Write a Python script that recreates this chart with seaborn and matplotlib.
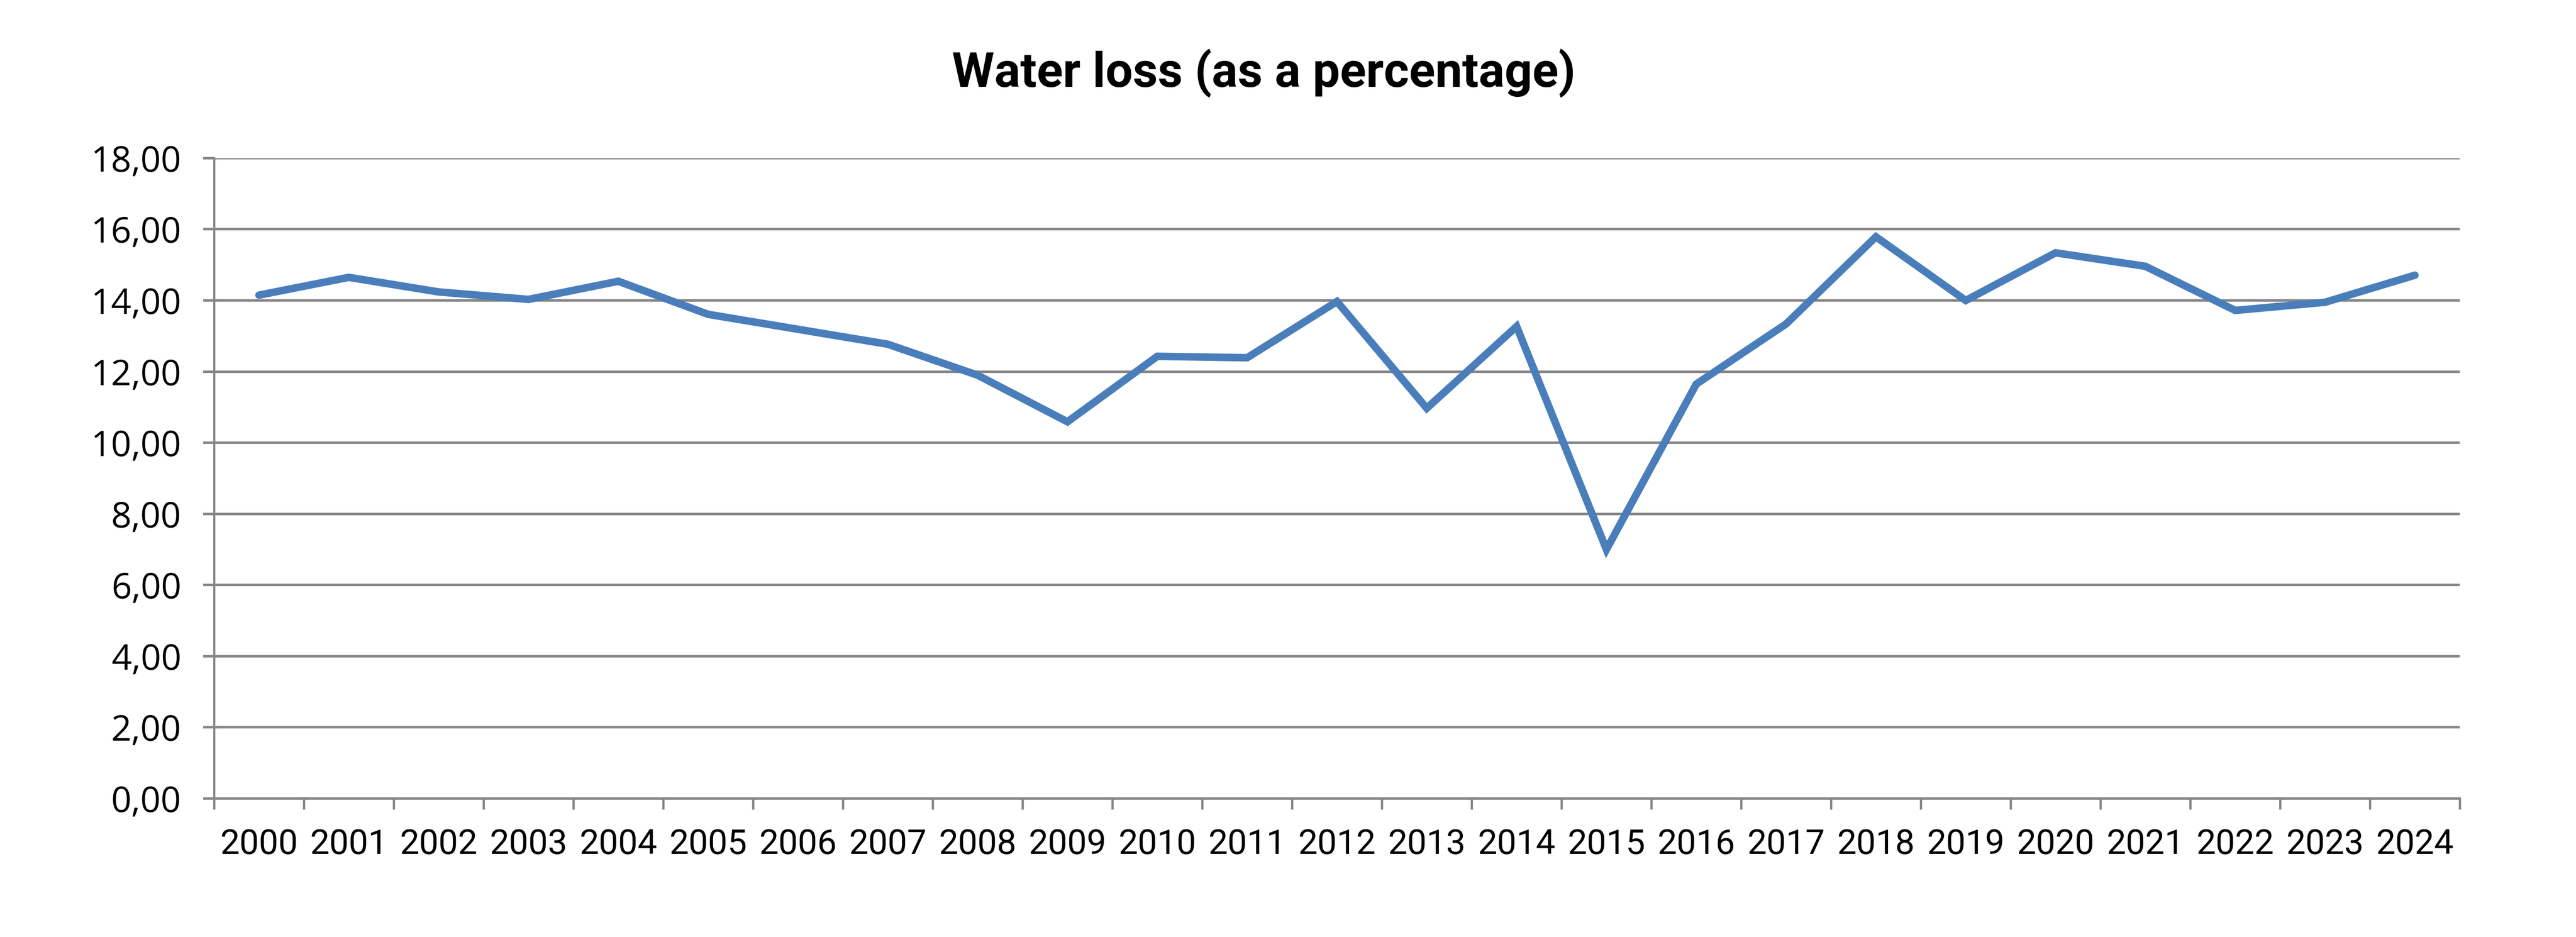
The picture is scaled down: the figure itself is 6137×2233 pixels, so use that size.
import numpy as np
import pandas as pd
import matplotlib
matplotlib.use('Agg')
import matplotlib.pyplot as plt
import seaborn as sns
from matplotlib.ticker import FixedLocator

# water loss data
years = [str(y) for y in range(2000, 2025)]
water_loss = [14.15, 14.65, 14.24, 14.03, 14.54, 13.61, 13.19, 12.77, 11.90, 10.59,
              12.43, 12.39, 13.97, 10.97, 13.27, 7.00, 11.65, 13.34, 15.79, 14.00,
              15.34, 14.96, 13.72, 13.95, 14.71]
y_ticks = [0, 2, 4, 6, 8, 10, 12, 14, 16, 18]
y_tick_labels = ['0,00', '2,00', '4,00', '6,00', '8,00', '10,00', '12,00', '14,00', '16,00', '18,00']
title = 'Water loss (as a percentage)'

df = pd.DataFrame({'year': years, 'loss': water_loss})

sns.set_style('white')
plt.rcParams['font.family'] = ['Roboto', 'DejaVu Sans']

grey = '#878787'

fig = plt.figure(figsize=(6137 / 300, 2233 / 300), dpi=300)
ax = fig.add_axes([0.0831, 0.1478, 0.9549 - 0.0831, 0.8312 - 0.1478])

sns.lineplot(data=df, x='year', y='loss', ax=ax, color='#4A7EBB', linewidth=4.3,
             solid_joinstyle='miter', solid_capstyle='round', zorder=3)

ax.set_xlim(-0.5, len(years) - 0.5)
ax.set_ylim(0, 18)

# y axis
ax.set_yticks(y_ticks)
ax.set_yticklabels(y_tick_labels, fontfamily='Open Sans', fontsize=20.3, color='black')
ax.yaxis.grid(True, color=grey, linewidth=1.44)
ax.tick_params(axis='y', which='major', length=6.2, width=1.44, color=grey, pad=12.5, left=True)

# x axis - category style, ticks between categories
ax.set_xticks(range(len(years)))
ax.set_xticklabels(years, fontsize=19.8, color='black')
ax.xaxis.set_minor_locator(FixedLocator(np.arange(-0.5, len(years), 1.0)))
ax.tick_params(axis='x', which='major', length=0, pad=17)
ax.tick_params(axis='x', which='minor', length=6.2, width=1.3, color=grey, bottom=True)
ax.xaxis.grid(False)

ax.set_xlabel('')
ax.set_ylabel('')

for side in ['top', 'right']:
    ax.spines[side].set_visible(False)
ax.spines['left'].set_color(grey)
ax.spines['left'].set_linewidth(1.2)
ax.spines['bottom'].set_color(grey)
ax.spines['bottom'].set_linewidth(1.44)

fig.text(0.4905, 0.907, title, ha='center', va='baseline', fontsize=27.7,
         fontweight='bold', color='black')

fig.savefig('out.png', dpi=300, facecolor='white')
